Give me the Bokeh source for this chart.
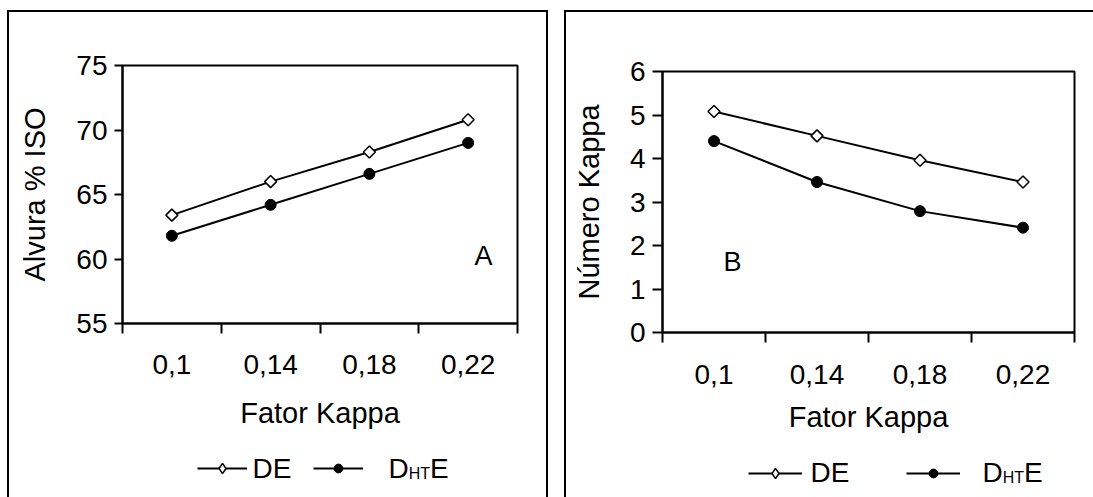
import numpy as np
from bokeh.plotting import figure
from bokeh.models import (Range1d, FixedTicker, SingleIntervalTicker, CustomJSTickFormatter,
                          Legend, LegendItem, Label)
from bokeh.embed import file_html
from bokeh.resources import INLINE

# ---------------- data ----------------
fator_kappa = [0.10, 0.14, 0.18, 0.22]
x_labels = ["0,1", "0,14", "0,18", "0,22"]

alvura_de = [63.4, 66.0, 68.3, 70.8]
alvura_dhte = [61.8, 64.2, 66.6, 69.0]

kappa_de = [5.08, 4.52, 3.96, 3.46]
kappa_dhte = [4.40, 3.46, 2.79, 2.41]

legend_texts = ["DE", "D", "HT", "E"]

FONT = "Liberation Sans"
FS = "28px"
FS_TITLE = "29px"


def x_bounds():
    step = fator_kappa[1] - fator_kappa[0]
    return [v - step / 2 for v in fator_kappa] + [fator_kappa[-1] + step / 2]


def add_series(p, de, dhte, visible=True, legend_style=False):
    l1 = p.line(fator_kappa, de, line_color="black", line_width=2, visible=visible)
    if legend_style:
        s1 = p.scatter(fator_kappa, de, marker="diamond", size=10,
                       fill_color="white", line_color="black", line_width=1.5, visible=visible)
    else:
        s1 = p.scatter(fator_kappa, de, marker="square", angle=np.pi / 4, size=8.5,
                       fill_color="white", line_color="black", line_width=1.5, visible=visible)
    l2 = p.line(fator_kappa, dhte, line_color="black", line_width=2, visible=visible)
    s2 = p.scatter(fator_kappa, dhte, marker="circle", size=11,
                   fill_color="black", line_color="black", visible=visible)
    return [[l1, s1], [l2, s2]]


def make_chart(left, top, width, height, borders, y_start, y_end, y_step, ylabel, de, dhte,
               letter, letter_pos, shadow, xl_standoff, yl_standoff, xlab_standoff, ytick_out):
    bounds = x_bounds()
    p = figure(width=width, height=height, output_backend="svg", toolbar_location=None,
               x_range=Range1d(bounds[0], bounds[-1]), y_range=Range1d(y_start, y_end),
               min_border_left=borders[0], min_border_right=borders[1],
               min_border_top=borders[2], min_border_bottom=borders[3])
    p.border_fill_color = None
    p.background_fill_color = "white"
    p.outline_line_color = "black"
    p.outline_line_width = 2
    p.xgrid.visible = False
    p.ygrid.visible = False
    p.styles = {"position": "absolute", "left": f"{left}px", "top": f"{top}px",
                "box-shadow": shadow}

    xa = p.xaxis[0]
    xa.ticker = FixedTicker(ticks=fator_kappa, minor_ticks=bounds)
    xa.formatter = CustomJSTickFormatter(args=dict(vals=fator_kappa, labels=x_labels), code="""
        let best = -1, d = 1e9;
        for (let i = 0; i < vals.length; i++) {
            const e = Math.abs(vals[i] - tick);
            if (e < d) { d = e; best = i; }
        }
        return d < 1e-6 ? labels[best] : "";
    """)
    xa.major_tick_out = 0
    xa.major_tick_in = 0
    xa.minor_tick_out = 10
    xa.minor_tick_in = 0
    xa.minor_tick_line_width = 2
    xa.minor_tick_line_color = "black"
    xa.axis_line_width = 2
    xa.axis_line_color = "black"
    xa.major_label_standoff = xl_standoff
    xa.axis_label = "Fator Kappa"
    xa.axis_label_standoff = xlab_standoff

    ya = p.yaxis[0]
    ya.ticker = SingleIntervalTicker(interval=y_step, num_minor_ticks=0)
    ya.major_tick_out = ytick_out
    ya.major_tick_in = 0
    ya.major_tick_line_width = 2
    ya.major_tick_line_color = "black"
    ya.minor_tick_line_color = None
    ya.axis_line_width = 2
    ya.axis_line_color = "black"
    ya.major_label_standoff = 7
    ya.axis_label = ylabel
    ya.axis_label_standoff = yl_standoff

    for ax in (xa, ya):
        ax.major_label_text_font = FONT
        ax.major_label_text_font_size = FS
        ax.major_label_text_color = "black"
        ax.axis_label_text_font = FONT
        ax.axis_label_text_font_size = FS_TITLE
        ax.axis_label_text_font_style = "normal"
        ax.axis_label_text_color = "black"

    add_series(p, de, dhte)

    p.add_layout(Label(x=letter_pos[0], y=letter_pos[1], text=letter, text_align="center",
                       text_baseline="middle", text_font=FONT, text_font_size="27px",
                       text_color="black"))
    return p


def make_legend(left, top, width, height, de, dhte, shadow, samples, center_y, text_x):
    bounds = x_bounds()
    p = figure(width=width, height=height, output_backend="svg", toolbar_location=None,
               x_range=Range1d(bounds[0], bounds[-1]), y_range=Range1d(0, 1),
               x_axis_type=None, y_axis_type=None, min_border=0)
    p.border_fill_color = None
    p.background_fill_color = None
    p.outline_line_color = None
    p.xgrid.visible = False
    p.ygrid.visible = False
    p.styles = {"position": "absolute", "left": f"{left}px", "top": f"{top}px",
                "box-shadow": shadow}
    rends = add_series(p, de, dhte, visible=False, legend_style=True)
    for (lx, ly, gw, gh), rr in zip(samples, rends):
        lg = Legend(items=[LegendItem(label=" ", renderers=rr)], location=(lx, ly),
                    glyph_width=gw, glyph_height=gh, label_height=gh, label_width=0,
                    label_standoff=0, padding=0, margin=0, spacing=0,
                    border_line_color=None, background_fill_alpha=0,
                    label_text_font_size="1px")
        p.add_layout(lg)
    xde, xd = text_x
    d_w = 0.722 * 28
    ht_w = 1.333 * 16
    for txt, x, y, fs in [(legend_texts[0], xde, center_y, "28px"),
                          (legend_texts[1], xd, center_y, "28px"),
                          (legend_texts[2], xd + d_w, center_y - 5.3, "16px"),
                          (legend_texts[3], xd + d_w + ht_w, center_y, "28px")]:
        p.add_layout(Label(x=x, y=y, x_units="screen", y_units="screen", text=txt,
                           text_align="left", text_baseline="middle",
                           text_font=FONT, text_font_size=fs, text_color="black"))
    return p


SH_A_TOP = "inset 0 2px 0 0 black, inset 2px 0 0 0 black, inset -2px 0 0 0 black"
SH_A = "inset 2px 0 0 0 black, inset -2px 0 0 0 black"
SH_B_TOP = "inset 0 2px 0 0 black, inset 2px 0 0 0 black"
SH_B = "inset 2px 0 0 0 black"

pA = make_chart(7, 10, 541, 435, (115, 31, 55, 122), 55, 75, 5, "Alvura % ISO",
                alvura_de, alvura_dhte, "A", (0.2262, 60.27), SH_A_TOP, 21, 22, 20, 8)
lA = make_legend(7, 445, 541, 52, alvura_de, alvura_dhte, SH_A,
                 [(190, 16, 50, 26), (306, 18, 50, 22)], 29, (245, 381))

pB = make_chart(564, 10, 529, 435, (98, 19, 61, 113), 0, 6, 1, "Número Kappa",
                kappa_de, kappa_dhte, "B", (0.1072, 1.61), SH_B_TOP, 22, 22, 14, 10)
lB = make_legend(564, 445, 529, 52, kappa_de, kappa_dhte, SH_B,
                 [(184, 11, 54, 26), (342, 13, 54, 22)], 25, (246, 418))

open("out.html", "w").write(file_html([pA, lA, pB, lB], INLINE))
